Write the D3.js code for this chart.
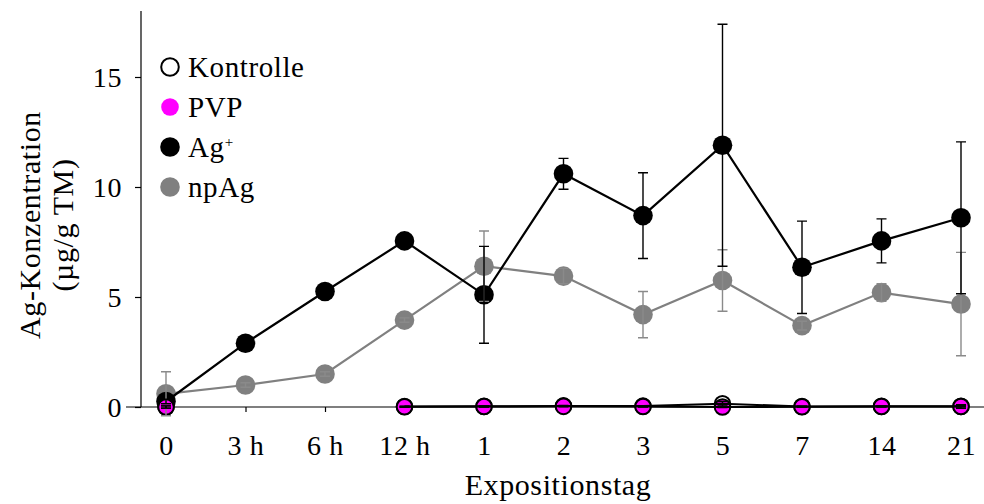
<!DOCTYPE html>
<html lang="de">
<head>
<meta charset="UTF-8">
<title>Ag-Konzentration</title>
<script src="https://cdnjs.cloudflare.com/ajax/libs/d3/7.8.5/d3.min.js"></script>
<style>
    body { margin: 0; background: #fff; }
    text { font-family: "Palatino Linotype", "Book Antiqua", Palatino, "Liberation Serif", serif; fill: #000; letter-spacing: 0.6px; }
</style>
</head>
<body>
<svg id="chart" width="984" height="504"></svg>
<script>
    // data
    var days = ["0", "3 h", "6 h", "12 h", "1", "2", "3", "5", "7", "14", "21"];

    var kontrolle    = [0,    null, null, 0.02, 0.03, 0.05, 0.04, 0.15, 0.02, 0.03, 0.03];
    var kontrolleErr = [0.05, null, null, 0.02, 0.02, 0.02, 0.02, 0.1,  0.02, 0.02, 0.03];
    var pvp          = [0,    null, null, 0.01, 0.02, 0.03, 0.02, 0,    0.01, 0.02, 0.02];
    var pvpErr       = [0.05, null, null, 0.02, 0.02, 0.02, 0.02, 0.02, 0.02, 0.02, 0.08];
    var agIon        = [0.25, 2.9,  5.25, 7.55, 5.1, 10.6, 8.7, 11.9, 6.35, 7.55, 8.6];
    var agIonErr     = [0.1,  0.15, 0.1,  0.1,  2.2, 0.7,  1.95, 5.5, 2.1,  1.0,  3.45];
    var npAg         = [0.6,  1.0,  1.5,  3.95, 6.4, 5.95, 4.2, 5.75, 3.7,  5.2,  4.68];
    var npAgErr      = [1.0,  0.1,  0.1,  0.1,  1.6, 0.35, 1.05, 1.4, 0.2,  0.4,  2.35];

    var yTicks = [0, 5, 10, 15];

    var series = [
        {name: "npAg", values: npAg, err: npAgErr, fill: "#808080", stroke: "none", line: "#808080", bar: "#8a8a8a"},
        {name: "Ag+", values: agIon, err: agIonErr, fill: "#000", stroke: "none", line: "#000", bar: "#000"},
        {name: "Kontrolle", values: kontrolle, err: kontrolleErr, fill: "#fff", stroke: "#000", line: "#000", bar: "#000"},
        {name: "PVP", values: pvp, err: pvpErr, fill: "#ff00ff", stroke: "#000", line: "#000", bar: "#000"}
    ];
    var legendOrder = ["Kontrolle", "PVP", "Ag+", "npAg"];

    var svg = d3.select("#chart");
    var margin = {left: 141, right: 0, top: 14, bottom: 97};
    var W = 984, H = 504;

    var x = d3.scalePoint()
        .domain(days)
        .range([166, 961]);

    var y = d3.scaleLinear()
        .domain([0, 18])
        .range([H - margin.bottom, H - margin.bottom - 18 * 22]);

    // axes
    var yAxis = d3.axisLeft(y).tickValues(yTicks).tickSize(6).tickPadding(13);
    var gy = svg.append("g")
        .attr("transform", "translate(" + margin.left + ",0)")
        .call(yAxis);
    gy.select(".domain").attr("d", "M0," + y(18) + "V" + y(0));
    gy.selectAll("text").style("font-size", "28px").attr("dy", "0.35em");

    var xAxis = d3.axisBottom(x).tickSize(5).tickPadding(23);
    var gx = svg.append("g")
        .attr("transform", "translate(0," + y(0) + ")")
        .call(xAxis);
    gx.select(".domain").attr("d", "M126,0H" + W);
    gx.selectAll("text").style("font-size", "28px");
    svg.selectAll(".domain, .tick line").attr("stroke", "#000").attr("stroke-width", 1.2);

    // axis titles
    svg.append("text")
        .attr("transform", "translate(558,495)")
        .attr("text-anchor", "middle")
        .style("font-size", "30px")
        .text("Expositionstag");

    var ylab = svg.append("text")
        .attr("transform", "translate(40,225) rotate(-90)")
        .attr("text-anchor", "middle")
        .style("font-size", "30px");
    ylab.append("tspan").attr("x", 0).attr("dy", 0).text("Ag-Konzentration");
    ylab.append("tspan").attr("x", 0).attr("dy", "1.1em").text("(µg/g TM)");

    var line = function(vals) {
        return d3.line()
            .defined(function(d) { return d != null; })
            .x(function(d, i) { return x(days[i]); })
            .y(function(d) { return y(d); })(vals);
    };

    var plot = svg.append("g");
    var r = 9.8;

    // npAg and Ag+: line then markers
    series.slice(0, 2).forEach(function(s) {
        plot.append("path")
            .attr("d", line(s.values))
            .attr("fill", "none")
            .attr("stroke", s.line)
            .attr("stroke-width", 2.2);
        plot.selectAll(null)
            .data(s.values.map(function(v, i) { return {v: v, i: i}; }).filter(function(d) { return d.v != null; }))
            .join("circle")
            .attr("cx", function(d) { return x(days[d.i]); })
            .attr("cy", function(d) { return y(d.v); })
            .attr("r", r)
            .attr("fill", s.fill);
    });

    // Kontrolle and PVP: markers then lines on top
    series.slice(2).forEach(function(s) {
        plot.selectAll(null)
            .data(s.values.map(function(v, i) { return {v: v, i: i}; }).filter(function(d) { return d.v != null; }))
            .join("circle")
            .attr("cx", function(d) { return x(days[d.i]); })
            .attr("cy", function(d) { return y(d.v); })
            .attr("r", 7.8)
            .attr("fill", s.fill)
            .attr("stroke", s.stroke)
            .attr("stroke-width", 2);
    });
    series.slice(2).forEach(function(s) {
        plot.append("path")
            .attr("d", line(s.values))
            .attr("fill", "none")
            .attr("stroke", s.line)
            .attr("stroke-width", 2);
    });

    // error bars on top
    series.forEach(function(s) {
        var g = plot.append("g")
            .attr("stroke", s.bar)
            .attr("stroke-width", 1.4)
            .attr("fill", "none");
        s.values.forEach(function(v, i) {
            if (v == null) return;
            var cx = x(days[i]);
            var lo = y(v - s.err[i]), hi = y(v + s.err[i]);
            g.append("path")
                .attr("d", "M" + cx + "," + lo + "V" + hi +
                    "M" + (cx - 5) + "," + lo + "H" + (cx + 5) +
                    "M" + (cx - 5) + "," + hi + "H" + (cx + 5));
        });
    });

    // legend
    var legend = svg.append("g");
    legendOrder.forEach(function(name, k) {
        var s = series.find(function(d) { return d.name === name; });
        var ly = 67 + k * 40;
        legend.append("circle")
            .attr("cx", 170)
            .attr("cy", ly)
            .attr("r", s.stroke === "none" ? 9.8 : 8.8)
            .attr("fill", name === "Kontrolle" ? "#fff" : s.fill)
            .attr("stroke", name === "Kontrolle" ? "#000" : "none")
            .attr("stroke-width", 2);
        var t = legend.append("text")
            .attr("x", 188)
            .attr("y", ly)
            .attr("dy", "0.35em")
            .style("font-size", "29px");
        if (name === "Ag+") {
            t.append("tspan").text("Ag");
            t.append("tspan").attr("dy", "-0.7em").style("font-size", "15px").text("+");
        } else {
            t.text(name);
        }
    });
</script>
</body>
</html>
